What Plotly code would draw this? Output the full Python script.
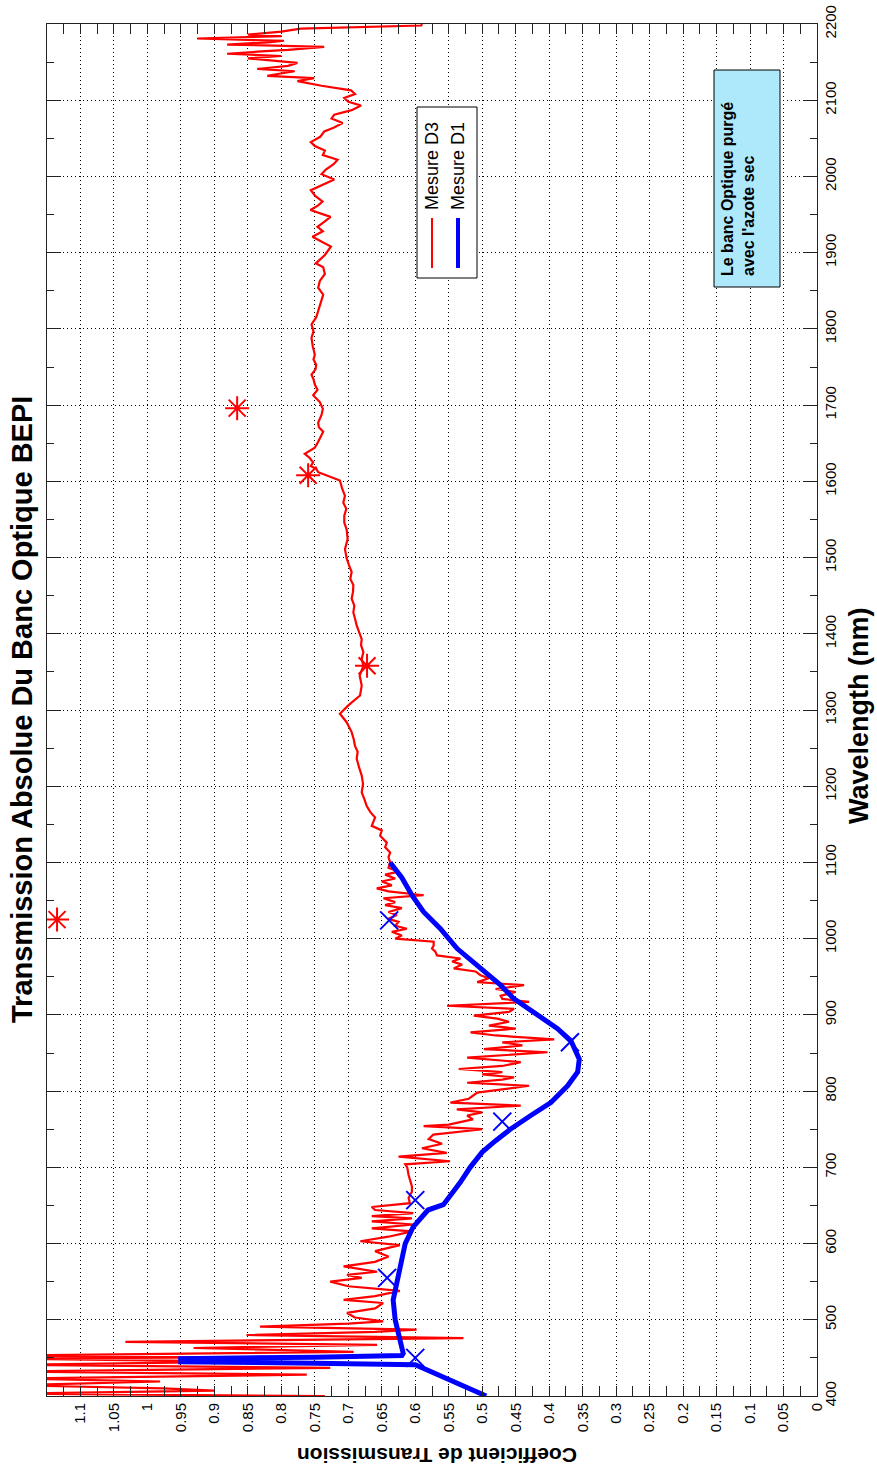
import plotly.graph_objects as go

# Mesure D3 (red) : wavelength (nm) / transmission
d3_wavelength = [
    400, 403, 407, 410, 414, 419, 423, 428, 432, 437, 441, 445, 449, 451, 453, 458,
    463, 467, 471, 476, 480, 484, 487, 491, 495, 498, 503, 509, 515, 522, 526, 531,
    538, 544, 550, 555, 559, 563, 570, 576, 583, 590, 598, 603, 609, 616, 620, 625,
    629, 633, 636, 640, 644, 648, 653, 660, 668, 675, 690, 700, 704, 708, 714, 719,
    725, 731, 737, 743, 750, 754, 756, 763, 768, 772, 776, 781, 785, 790, 798, 803,
    807, 811, 815, 818, 822, 825, 829, 833, 838, 844, 848, 851, 855, 860, 864, 868,
    873, 877, 882, 886, 891, 895, 899, 904, 908, 912, 917, 921, 925, 930, 934, 939,
    943, 948, 952, 957, 961, 966, 970, 974, 978, 983, 987, 991, 996, 1000, 1004, 1009,
    1013, 1017, 1022, 1026, 1031, 1035, 1040, 1044, 1048, 1053, 1057, 1062, 1066, 1070,
    1075, 1079, 1084, 1088, 1093, 1100, 1107, 1113, 1120, 1126, 1135, 1142, 1148, 1159,
    1166, 1174, 1183, 1192, 1203, 1214, 1225, 1236, 1245, 1253, 1262, 1271, 1284, 1295,
    1306, 1319, 1332, 1345, 1358, 1367, 1376, 1385, 1393, 1402, 1411, 1420, 1428, 1437,
    1446, 1455, 1464, 1472, 1481, 1490, 1499, 1511, 1524, 1537, 1546, 1555, 1564, 1572,
    1581, 1590, 1601, 1607, 1612, 1616, 1620, 1625, 1631, 1636, 1644, 1652, 1658, 1665,
    1671, 1677, 1687, 1695, 1704, 1713, 1720, 1727, 1734, 1740, 1747, 1753, 1760, 1766,
    1777, 1788, 1797, 1806, 1815, 1823, 1834, 1845, 1854, 1863, 1872, 1881, 1886, 1897,
    1908, 1915, 1921, 1928, 1934, 1941, 1947, 1956, 1962, 1967, 1975, 1982, 1990, 1996,
    2003, 2009, 2016, 2022, 2028, 2034, 2040, 2045, 2052, 2059, 2064, 2070, 2076, 2081,
    2087, 2093, 2098, 2103, 2108, 2113, 2119, 2125, 2129, 2132, 2135, 2138, 2141, 2145,
    2149, 2152, 2155, 2158, 2161, 2164, 2166, 2170, 2173, 2176, 2178, 2181, 2184, 2186,
    2190, 2194, 2198, 2200,
]
d3_transmission = [
    0.735, 1.20, 0.90, 0.976, 1.20, 0.981, 1.20, 0.762, 1.20, 0.727, 1.20, 0.85, 1.20, 0.80, 1.20, 0.692,
    0.931, 0.657, 1.033, 0.528, 0.852, 0.66, 0.598, 0.832, 0.70, 0.648, 0.69, 0.702, 0.66, 0.648, 0.707, 0.66,
    0.623, 0.70, 0.727, 0.68, 0.702, 0.657, 0.707, 0.66, 0.64, 0.66, 0.623, 0.682, 0.64, 0.605, 0.665, 0.603,
    0.665, 0.605, 0.665, 0.603, 0.66, 0.665, 0.608, 0.61, 0.605, 0.605, 0.61, 0.612, 0.615, 0.548, 0.625, 0.553,
    0.59, 0.56, 0.58, 0.573, 0.50, 0.5875, 0.55, 0.514, 0.5225, 0.50, 0.538, 0.4425, 0.5475, 0.52, 0.5075, 0.46,
    0.43, 0.5225, 0.47, 0.4525, 0.50, 0.47, 0.535, 0.47, 0.4425, 0.5225, 0.46, 0.4025, 0.4975, 0.44, 0.47, 0.3925,
    0.48, 0.5175, 0.45, 0.49, 0.46, 0.4775, 0.5125, 0.46, 0.4525, 0.5525, 0.43, 0.47, 0.4725, 0.45, 0.48, 0.4375,
    0.5075, 0.49, 0.5025, 0.51, 0.5425, 0.53, 0.545, 0.5325, 0.5675, 0.57, 0.575, 0.5725, 0.5725, 0.63, 0.62, 0.635,
    0.6125, 0.63, 0.625, 0.64, 0.6275, 0.64, 0.62, 0.645, 0.63, 0.6475, 0.5875, 0.64, 0.6575, 0.635,
    0.65, 0.63, 0.645, 0.625, 0.64, 0.6375, 0.64, 0.6375, 0.645, 0.6425, 0.6525, 0.65, 0.665, 0.66,
    0.667, 0.6725, 0.676, 0.68, 0.678, 0.68, 0.684, 0.6875, 0.686, 0.69, 0.692, 0.695, 0.7025, 0.7125,
    0.70, 0.6825, 0.68, 0.683, 0.6775, 0.680, 0.6775, 0.681, 0.68, 0.684, 0.6875, 0.690, 0.6925, 0.691,
    0.695, 0.693, 0.6925, 0.697, 0.695, 0.699, 0.7025, 0.705, 0.701, 0.7025, 0.706, 0.706, 0.703, 0.7075,
    0.705, 0.709, 0.7125, 0.73, 0.745, 0.7475, 0.756, 0.7525, 0.758, 0.765, 0.75, 0.745, 0.742, 0.7375,
    0.744, 0.745, 0.74, 0.738, 0.7425, 0.7525, 0.746, 0.75, 0.752, 0.755, 0.749, 0.748, 0.752, 0.75,
    0.753, 0.755, 0.752, 0.755, 0.748, 0.745, 0.741, 0.7375, 0.745, 0.7425, 0.735, 0.7375, 0.7485, 0.735,
    0.726, 0.742, 0.7535, 0.738, 0.746, 0.735, 0.7265, 0.7565, 0.745, 0.7385, 0.75, 0.756, 0.735, 0.721,
    0.74, 0.7335, 0.722, 0.716, 0.738, 0.735, 0.75, 0.756, 0.742, 0.736, 0.722, 0.7085, 0.725, 0.721,
    0.695, 0.681, 0.70, 0.706, 0.69, 0.696, 0.74, 0.776, 0.751, 0.821, 0.801, 0.78, 0.836, 0.79,
    0.776, 0.82, 0.85, 0.80, 0.881, 0.83, 0.79, 0.736, 0.881, 0.82, 0.796, 0.926, 0.80, 0.85,
    0.80, 0.771, 0.591, 0.59,
]

# Mesure D1 (blue)
d1_wavelength = [
    400, 410, 420, 430, 441, 443, 445, 447, 449, 451, 453, 456, 470, 483, 500, 526,
    552, 579, 600, 622, 640, 644, 651, 665, 680, 700, 720, 735, 750, 768, 785, 807,
    825, 842, 866, 882, 904, 921, 939, 961, 987, 1013, 1035, 1057, 1080, 1100,
]
d1_transmission = [
    0.494, 0.52, 0.545, 0.57, 0.60, 0.75, 0.954, 0.85, 0.954, 0.75, 0.62, 0.618, 0.622, 0.627, 0.630, 0.633,
    0.627, 0.620, 0.615, 0.603, 0.585, 0.581, 0.558, 0.545, 0.533, 0.518, 0.50, 0.48, 0.458, 0.4275, 0.3975, 0.3725,
    0.3575, 0.355, 0.3675, 0.3875, 0.4225, 0.4525, 0.4725, 0.5025, 0.5375, 0.5625, 0.5875, 0.605, 0.62, 0.6375,
]

# Isolated measurement points
d3_points_wavelength = [1025, 1358, 1608, 1696]
d3_points_transmission = [1.135, 0.672, 0.760, 0.866]
d1_points_wavelength = [450, 555, 657, 760, 864, 1024]
d1_points_transmission = [0.600, 0.642, 0.600, 0.470, 0.369, 0.639]

trans_ticks = [0, 0.05, 0.1, 0.15, 0.2, 0.25, 0.3, 0.35, 0.4, 0.45, 0.5, 0.55,
               0.6, 0.65, 0.7, 0.75, 0.8, 0.85, 0.9, 0.95, 1, 1.05, 1.1]
trans_labels = ["0", "0.05", "0.1", "0.15", "0.2", "0.25", "0.3", "0.35", "0.4", "0.45", "0.5", "0.55",
                "0.6", "0.65", "0.7", "0.75", "0.8", "0.85", "0.9", "0.95", "1", "1.05", "1.1"]
wl_ticks = [400, 500, 600, 700, 800, 900, 1000, 1100, 1200, 1300, 1400, 1500,
            1600, 1700, 1800, 1900, 2000, 2100, 2200]

FONT = "Liberation Sans, Arial, sans-serif"
W, H = 877, 1472
L, R, T, B = 47, 817, 24, 1396


def px(x):
    return (x - L) / (R - L)


def py(y):
    return (B - y) / (B - T)


fig = go.Figure()
fig.add_trace(go.Scatter(x=d3_transmission, y=d3_wavelength, mode="lines",
                         line=dict(color="#ff0000", width=2.2), showlegend=False))
fig.add_trace(go.Scatter(x=d1_transmission, y=d1_wavelength, mode="lines",
                         line=dict(color="#0000ff", width=5), showlegend=False))
fig.add_trace(go.Scatter(x=d3_points_transmission, y=d3_points_wavelength, mode="markers",
                         marker=dict(symbol="asterisk-open", size=20, color="#ff0000",
                                     line=dict(color="#ff0000", width=2)),
                         showlegend=False))
fig.add_trace(go.Scatter(x=d1_points_transmission, y=d1_points_wavelength, mode="markers",
                         marker=dict(symbol="x-thin-open", size=18, color="#0000ff",
                                     line=dict(color="#0000ff", width=2)),
                         showlegend=False))

axis_common = dict(showline=True, linecolor="#222222", linewidth=1, mirror="ticks",
                   showgrid=True, gridcolor="#000000", griddash="1px,3px", gridwidth=1,
                   zeroline=False, ticks="inside", tickcolor="#222222", automargin=False,
                   tickfont=dict(family=FONT, size=15, color="#000000"), tickangle=-90)

fig.update_layout(
    width=W, height=H, autosize=False,
    margin=dict(l=L, r=W - R, t=T, b=H - B),
    paper_bgcolor="white", plot_bgcolor="white",
    xaxis=dict(range=[1.15, 0], tickmode="array", tickvals=trans_ticks, ticktext=trans_labels,
               ticklen=10, minor=dict(tickmode="linear", tick0=0, dtick=0.025, ticks="inside",
                                      ticklen=10, tickcolor="#222222", showgrid=False),
               **axis_common),
    yaxis=dict(range=[400, 2200], side="right", tickmode="array", tickvals=wl_ticks,
               ticklen=14, minor=dict(tickmode="linear", tick0=400, dtick=50, ticks="inside",
                                      ticklen=7, tickcolor="#222222", showgrid=False),
               **axis_common),
)

annotations = [
    dict(text="<b>Transmission Absolue Du Banc Optique BEPI</b>", x=px(22), y=py(710),
         textangle=-90, font=dict(family=FONT, size=29, color="#000000")),
    dict(text="<b>Wavelength (nm)</b>", x=px(859), y=py(715),
         textangle=-90, font=dict(family=FONT, size=27, color="#000000")),
    dict(text="<b>Coefficient de Transmission</b>", x=px(437), y=py(1456),
         textangle=180, font=dict(family=FONT, size=21, color="#000000")),
    dict(text="Mesure D3", x=px(432), y=py(212), yanchor="bottom",
         textangle=-90, font=dict(family=FONT, size=18, color="#000000")),
    dict(text="Mesure D1", x=px(458), y=py(212), yanchor="bottom",
         textangle=-90, font=dict(family=FONT, size=18, color="#000000")),
    dict(text="<b>Le banc Optique purgé<br>avec l'azote sec</b>", x=px(738), y=py(278),
         yanchor="bottom", align="left",
         textangle=-90, font=dict(family=FONT, size=16, color="#000000")),
]
for a in annotations:
    a.update(xref="paper", yref="paper", showarrow=False)
    a.setdefault("xanchor", "center")
    a.setdefault("yanchor", "middle")
fig.update_layout(annotations=annotations)

shapes = [
    dict(type="rect", x0=px(417), x1=px(477), y0=py(278), y1=py(107),
         line=dict(color="#000000", width=1), fillcolor="white", layer="above"),
    dict(type="line", x0=px(432), x1=px(432), y0=py(268), y1=py(218),
         line=dict(color="#ff0000", width=2), layer="above"),
    dict(type="line", x0=px(458), x1=px(458), y0=py(268), y1=py(218),
         line=dict(color="#0000ff", width=4), layer="above"),
    dict(type="rect", x0=px(714), x1=px(780), y0=py(287), y1=py(70),
         line=dict(color="#000000", width=1), fillcolor="#aee9fb", layer="above"),
]
for s in shapes:
    s.update(xref="paper", yref="paper")
fig.update_layout(shapes=shapes)

# remove the default page margin so the figure sits at the window origin
fig.write_html("out.html", config={"displayModeBar": False},
               post_script="document.body.style.margin='0';")
